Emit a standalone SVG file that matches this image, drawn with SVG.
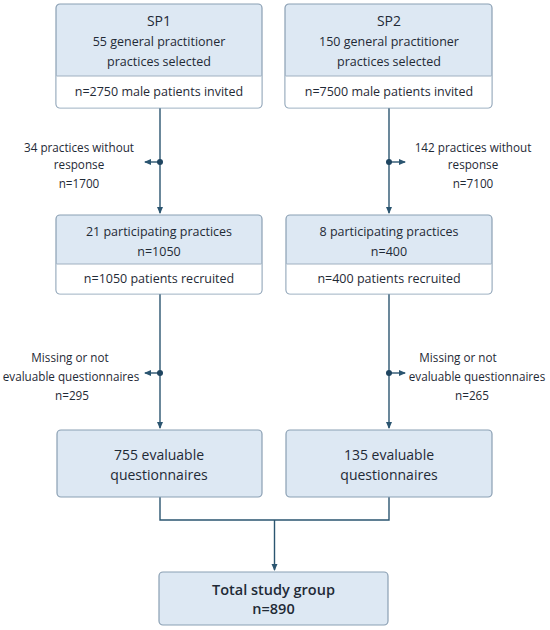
<svg xmlns="http://www.w3.org/2000/svg" width="550" height="630" viewBox="0 0 550 630">
<style>
.box{fill:#dde8f3;stroke:#8a9fb3;stroke-width:1.2}
.low{fill:#ffffff}
.div{stroke:#9fb0c0;stroke-width:1}
text{font-family:"Open Sans","Noto Sans","Liberation Sans",sans-serif;font-size:12.5px;fill:#1f2a36;text-anchor:middle}
.s{font-size:11.7px}
.t{font-size:14px}
.b{font-size:14.5px;font-weight:600}
.ln{stroke:#2b5570;stroke-width:1.4;fill:none}
.dot{fill:#1f4560}
</style>
<defs>
<marker id="ah" markerWidth="8" markerHeight="8" refX="6" refY="4" orient="auto" markerUnits="userSpaceOnUse">
<path d="M0,1 L7,4 L0,7 Z" fill="#2b5570"/>
</marker>
</defs>
<rect width="550" height="630" fill="#ffffff"/>
<g id="connectors">
<line class="ln" x1="160" y1="108" x2="160" y2="213" marker-end="url(#ah)"/>
<line class="ln" x1="160" y1="162" x2="145" y2="162" marker-end="url(#ah)"/>
<circle class="dot" cx="160" cy="162" r="3"/>
<line class="ln" x1="389" y1="108" x2="389" y2="213" marker-end="url(#ah)"/>
<line class="ln" x1="389" y1="162" x2="405" y2="162" marker-end="url(#ah)"/>
<circle class="dot" cx="389" cy="162" r="3"/>
<line class="ln" x1="160" y1="294" x2="160" y2="428" marker-end="url(#ah)"/>
<line class="ln" x1="160" y1="373" x2="145" y2="373" marker-end="url(#ah)"/>
<circle class="dot" cx="160" cy="373" r="3"/>
<line class="ln" x1="389" y1="294" x2="389" y2="428" marker-end="url(#ah)"/>
<line class="ln" x1="389" y1="373" x2="405" y2="373" marker-end="url(#ah)"/>
<circle class="dot" cx="389" cy="373" r="3"/>
<polyline class="ln" points="160,497 160,520 389,520 389,497"/>
<line class="ln" x1="274.5" y1="520" x2="274.5" y2="570" marker-end="url(#ah)"/>
</g>
<g id="sp1">
<rect class="box" x="56" y="4" width="206" height="104" rx="4"/>
<path class="low" d="M56.6,76 H261.4 V104 a3.4,3.4 0 0 1 -3.4,3.4 H60 a3.4,3.4 0 0 1 -3.4,-3.4 Z"/>
<line class="div" x1="56.6" y1="76" x2="261.4" y2="76"/>
<text class="t" x="159" y="26">SP1</text>
<text x="159" y="46">55 general practitioner</text>
<text x="159" y="66">practices selected</text>
<text x="159" y="96">n=2750 male patients invited</text>
</g>
<g id="sp2">
<rect class="box" x="285" y="4" width="207" height="104" rx="4"/>
<path class="low" d="M285.6,76 H491.4 V104 a3.4,3.4 0 0 1 -3.4,3.4 H289 a3.4,3.4 0 0 1 -3.4,-3.4 Z"/>
<line class="div" x1="285.6" y1="76" x2="491.4" y2="76"/>
<text class="t" x="389" y="26">SP2</text>
<text x="389" y="46">150 general practitioner</text>
<text x="389" y="66">practices selected</text>
<text x="389" y="96">n=7500 male patients invited</text>
</g>
<g id="excl1">
<text class="s" x="79" y="152">34 practices without</text>
<text class="s" x="79" y="169">response</text>
<text class="s" x="79" y="188">n=1700</text>
</g>
<g id="excl2">
<text class="s" x="473" y="152">142 practices without</text>
<text class="s" x="473" y="169">response</text>
<text class="s" x="473" y="188">n=7100</text>
</g>
<g id="part1">
<rect class="box" x="56" y="215" width="206" height="79" rx="4"/>
<path class="low" d="M56.6,264 H261.4 V290 a3.4,3.4 0 0 1 -3.4,3.4 H60 a3.4,3.4 0 0 1 -3.4,-3.4 Z"/>
<line class="div" x1="56.6" y1="264" x2="261.4" y2="264"/>
<text x="159" y="236">21 participating practices</text>
<text x="159" y="256">n=1050</text>
<text x="159" y="283">n=1050 patients recruited</text>
</g>
<g id="part2">
<rect class="box" x="286" y="215" width="206" height="79" rx="4"/>
<path class="low" d="M286.6,264 H491.4 V290 a3.4,3.4 0 0 1 -3.4,3.4 H290 a3.4,3.4 0 0 1 -3.4,-3.4 Z"/>
<line class="div" x1="286.6" y1="264" x2="491.4" y2="264"/>
<text x="389" y="236">8 participating practices</text>
<text x="389" y="256">n=400</text>
<text x="389" y="283">n=400 patients recruited</text>
</g>
<g id="miss1">
<text class="s" x="70" y="362">Missing or not</text>
<text class="s" x="71" y="381">evaluable questionnaires</text>
<text class="s" x="72" y="400">n=295</text>
</g>
<g id="miss2">
<text class="s" x="458" y="362">Missing or not</text>
<text class="s" x="477" y="381">evaluable questionnaires</text>
<text class="s" x="472" y="400">n=265</text>
</g>
<g id="eval1">
<rect class="box" x="57" y="430" width="205" height="67" rx="4"/>
<text class="t" x="159" y="460">755 evaluable</text>
<text class="t" x="159" y="480">questionnaires</text>
</g>
<g id="eval2">
<rect class="box" x="286" y="430" width="206" height="67" rx="4"/>
<text class="t" x="389" y="460">135 evaluable</text>
<text class="t" x="389" y="480">questionnaires</text>
</g>
<g id="total">
<rect class="box" x="159" y="572" width="229" height="53" rx="4"/>
<text class="b" x="273.5" y="595">Total study group</text>
<text class="b" x="273.5" y="614">n=890</text>
</g>
</svg>
